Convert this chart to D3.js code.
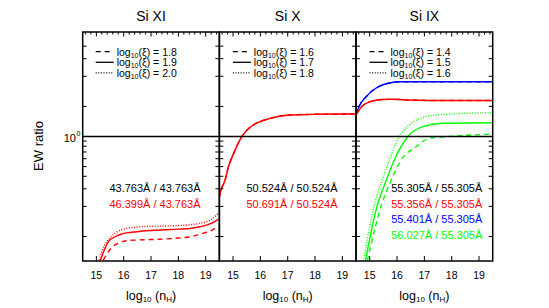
<!DOCTYPE html>
<html>
<head>
<meta charset="utf-8">
<script src="https://cdn.jsdelivr.net/npm/d3@7/dist/d3.min.js"></script>
<style>
    body { margin: 0; background: #fff; }
    svg text { font-family: "Liberation Sans", Arial, Helvetica, sans-serif; }
</style>
</head>
<body>
<div id="canvas"></div>
<script>
// ---- data ----
var panelTitles = ['Si XI', 'Si X', 'Si IX'];
var xTicks = [15, 16, 17, 18, 19];
var xDomain = [14.5, 19.5];
var yDomain = [0.0569, 11.09];
var yMinorTicks = [0.1, 0.2, 0.3, 0.4, 0.5, 0.6, 0.7, 0.8, 0.9, 2, 4, 6, 8];
var legendXi = [['1.8', '1.9', '2.0'], ['1.6', '1.7', '1.8'], ['1.4', '1.5', '1.6']];
var lineLabels = [
    ['43.763Å / 43.763Å', '46.399Å / 43.763Å'],
    ['50.524Å / 50.524Å', '50.691Å / 50.524Å'],
    ['55.305Å / 55.305Å', '55.356Å / 55.305Å', '55.401Å / 55.305Å', '56.027Å / 55.305Å']
];

// Si XI (red)
var si11DashX = [15.25, 15.62, 16.1, 16.5, 17.0, 17.5, 18.0, 18.5, 18.8, 19.2, 19.46];
var si11DashY = [0.058, 0.0804, 0.0908, 0.0923, 0.0933, 0.0944, 0.0966, 0.1, 0.1059, 0.1148, 0.1274];
var si11SolidX = [15.15, 15.44, 15.7, 15.93, 16.48, 17.0, 17.5, 18.0, 18.5, 18.8, 19.2, 19.46];
var si11SolidY = [0.058, 0.0887, 0.1, 0.1059, 0.1117, 0.1148, 0.1167, 0.1184, 0.121, 0.1253, 0.135, 0.1486];
var si11DotX = [15.1, 15.3, 15.5, 15.9, 16.5, 17.0, 17.5, 18.0, 18.5, 18.8, 19.2, 19.46];
var si11DotY = [0.058, 0.0822, 0.0966, 0.1161, 0.1245, 0.1265, 0.1274, 0.1288, 0.1318, 0.1355, 0.148, 0.1706];

// Si X (red, the three xi values nearly coincide)
var si10X = [14.5, 14.53, 14.71, 14.83, 15.0, 15.32, 15.74, 16.0, 16.36, 17.09, 18.0, 19.5];
var si10Y = [0.248, 0.272, 0.367, 0.495, 0.653, 0.995, 1.303, 1.413, 1.52, 1.641, 1.667, 1.679];

// Si IX blue (55.401)
var si9BlueX = [14.5, 14.62, 14.87, 15.24, 15.72, 16.1, 19.5];
var si9BlueY = [1.641, 2.018, 2.5, 3.055, 3.428, 3.532, 3.532];
// Si IX red (55.356)
var si9RedX = [14.5, 14.73, 15.1, 15.46, 15.83, 16.5, 17.5, 19.5];
var si9RedY = [1.641, 2.018, 2.265, 2.344, 2.355, 2.317, 2.29, 2.29];
// Si IX green (56.027)
var si9GreenDashX = [14.91, 15.43, 15.79, 16.15, 16.70, 17.18, 18.16, 19.5];
var si9GreenDashY = [0.0567, 0.2065, 0.367, 0.582, 0.791, 0.959, 1.012, 1.059];
var si9GreenSolidX = [14.84, 15.28, 15.61, 15.90, 16.39, 16.94, 17.67, 19.5];
var si9GreenSolidY = [0.0567, 0.2065, 0.367, 0.582, 0.995, 1.253, 1.355, 1.374];
var si9GreenDotX = [14.77, 15.17, 15.46, 15.72, 16.08, 16.45, 17.06, 17.92, 19.5];
var si9GreenDotY = [0.0567, 0.2065, 0.367, 0.582, 0.995, 1.303, 1.578, 1.679, 1.73];

// ---- layout ----
var w = 549, h = 308;
var mLeft = 82.7, pw = 136.67, mTop = 32, mBottom = 261;
var RED = '#ff0000', BLUE = '#0000ff', GREEN = '#00ff00';
var dashStyle = { dash: '5,4', solid: null, dot: '1,1.6' };

var pairs = function(xs, ys) { return xs.map(function(v, i) { return [v, ys[i]]; }); };

var series = [
    { p: 0, d: pairs(si11DashX, si11DashY), c: RED, s: 'dash' },
    { p: 0, d: pairs(si11DotX, si11DotY), c: RED, s: 'dot' },
    { p: 0, d: pairs(si11SolidX, si11SolidY), c: RED, s: 'solid' },
    { p: 1, d: pairs(si10X, si10Y), c: RED, s: 'dash' },
    { p: 1, d: pairs(si10X, si10Y), c: RED, s: 'dot' },
    { p: 1, d: pairs(si10X, si10Y), c: RED, s: 'solid' },
    { p: 2, d: pairs(si9BlueX, si9BlueY), c: BLUE, s: 'dash' },
    { p: 2, d: pairs(si9BlueX, si9BlueY), c: BLUE, s: 'solid' },
    { p: 2, d: pairs(si9RedX, si9RedY), c: RED, s: 'dash' },
    { p: 2, d: pairs(si9RedX, si9RedY), c: RED, s: 'solid' },
    { p: 2, d: pairs(si9GreenDashX, si9GreenDashY), c: GREEN, s: 'dash' },
    { p: 2, d: pairs(si9GreenDotX, si9GreenDotY), c: GREEN, s: 'dot' },
    { p: 2, d: pairs(si9GreenSolidX, si9GreenSolidY), c: GREEN, s: 'solid' }
];

var svg = d3.select('#canvas').append('svg')
    .attr('width', w)
    .attr('height', h);

var y = d3.scaleLog().domain(yDomain).range([mBottom, mTop]);
var xScales = panelTitles.map(function(t, i) {
    return d3.scaleLinear().domain(xDomain).range([mLeft + i * pw, mLeft + (i + 1) * pw]);
});

var defs = svg.append('defs');
xScales.forEach(function(x, i) {
    defs.append('clipPath').attr('id', 'clip' + i)
        .append('rect')
        .attr('x', x.range()[0]).attr('y', mTop)
        .attr('width', pw).attr('height', mBottom - mTop);
});

// curves
series.forEach(function(sr) {
    var x = xScales[sr.p];
    var line = d3.line()
        .x(function(d) { return x(d[0]); })
        .y(function(d) { return y(d[1]); })
        .curve(d3.curveMonotoneX);
    svg.append('path')
        .datum(sr.d)
        .attr('clip-path', 'url(#clip' + sr.p + ')')
        .attr('d', line)
        .attr('fill', 'none')
        .attr('stroke', sr.c)
        .attr('stroke-width', sr.s === 'dot' ? 1.4 : 1.4)
        .attr('stroke-dasharray', dashStyle[sr.s]);
});

// line at ratio = 1
svg.append('line')
    .attr('x1', mLeft).attr('x2', mLeft + 3 * pw)
    .attr('y1', y(1)).attr('y2', y(1))
    .attr('stroke', '#000').attr('stroke-width', 1.5);

// frames and ticks
xScales.forEach(function(x, i) {
    var g = svg.append('g');
    var x0 = x.range()[0], x1 = x.range()[1];

    g.append('rect')
        .attr('x', x0).attr('y', mTop)
        .attr('width', pw).attr('height', mBottom - mTop)
        .attr('fill', 'none').attr('stroke', '#000').attr('stroke-width', 1.5);

    // bottom ticks
    g.selectAll('.bt').data(xTicks).enter().append('line')
        .attr('x1', function(d) { return x(d); }).attr('x2', function(d) { return x(d); })
        .attr('y1', mBottom).attr('y2', mBottom - 5)
        .attr('stroke', '#000').attr('stroke-width', 1);

    // top ticks (major + minor)
    var topTicks = d3.range(14.6, 19.45, 0.2);
    g.selectAll('.tt').data(topTicks).enter().append('line')
        .attr('x1', function(d) { return x(d); }).attr('x2', function(d) { return x(d); })
        .attr('y1', mTop)
        .attr('y2', function(d) { return Math.abs(d - Math.round(d)) < 0.01 ? mTop + 4.5 : mTop + 2.5; })
        .attr('stroke', '#000').attr('stroke-width', 1);

    // x tick labels
    g.selectAll('.xl').data(xTicks).enter().append('text')
        .attr('x', function(d) { return x(d); })
        .attr('y', 279)
        .attr('text-anchor', 'middle')
        .attr('font-size', '10.5px')
        .text(function(d) { return d; });

    // x axis title
    var xt = g.append('text')
        .attr('x', (x0 + x1) / 2).attr('y', 299.5)
        .attr('text-anchor', 'middle')
        .attr('font-size', '12.5px');
    xt.append('tspan').text('log');
    xt.append('tspan').attr('font-size', '8px').attr('dy', 2).text('10');
    xt.append('tspan').attr('dy', -2).text(' (n');
    xt.append('tspan').attr('font-size', '8px').attr('dy', 2).text('H');
    xt.append('tspan').attr('dy', -2).text(')');

    // panel title
    g.append('text')
        .attr('x', (x0 + x1) / 2).attr('y', 21)
        .attr('text-anchor', 'middle')
        .attr('font-size', '14px')
        .text(panelTitles[i]);

    // y ticks on both sides of each panel
    g.selectAll('.yl').data(yMinorTicks).enter().append('line')
        .attr('x1', x0).attr('x2', x0 + 4)
        .attr('y1', function(d) { return y(d); }).attr('y2', function(d) { return y(d); })
        .attr('stroke', '#000').attr('stroke-width', 1);
    g.selectAll('.yr').data(yMinorTicks).enter().append('line')
        .attr('x1', x1).attr('x2', x1 - 4)
        .attr('y1', function(d) { return y(d); }).attr('y2', function(d) { return y(d); })
        .attr('stroke', '#000').attr('stroke-width', 1);

    // legend
    var lx = x0 + (i === 0 ? 13 : 13.5);
    var styles = ['dash', 'solid', 'dot'];
    legendXi[i].forEach(function(v, k) {
        var ly = 51.7 + k * 10.6;
        g.append('line')
            .attr('x1', lx).attr('x2', lx + 18)
            .attr('y1', ly).attr('y2', ly)
            .attr('stroke', '#000').attr('stroke-width', 1.3)
            .attr('stroke-dasharray', dashStyle[styles[k]]);
        var t = g.append('text')
            .attr('x', lx + 21).attr('y', ly + 4)
            .attr('font-size', '10.5px');
        t.append('tspan').text('log');
        t.append('tspan').attr('font-size', '7px').attr('dy', 2).text('10');
        t.append('tspan').attr('dy', -2).text('(ξ) = ' + v);
    });

    // line ratio labels
    var annX = [155, 292, 436.7][i];
    var annColors = [['#000', RED], ['#000', RED], ['#000', RED, BLUE, GREEN]][i];
    lineLabels[i].forEach(function(s, k) {
        g.append('text')
            .attr('x', annX).attr('y', 192 + k * 15.6)
            .attr('text-anchor', 'middle')
            .attr('font-size', '11px')
            .attr('fill', annColors[k])
            .text(s);
    });
});

// y axis label 10^0
svg.append('text')
    .attr('x', 76).attr('y', y(1) + 5)
    .attr('text-anchor', 'end')
    .attr('font-size', '11px')
    .text('10');
svg.append('text')
    .attr('x', 76.5).attr('y', y(1) - 1)
    .attr('font-size', '7px')
    .text('0');

svg.append('text')
    .attr('transform', 'translate(43,146) rotate(-90)')
    .attr('text-anchor', 'middle')
    .attr('font-size', '13px')
    .text('EW ratio');
</script>
</body>
</html>
